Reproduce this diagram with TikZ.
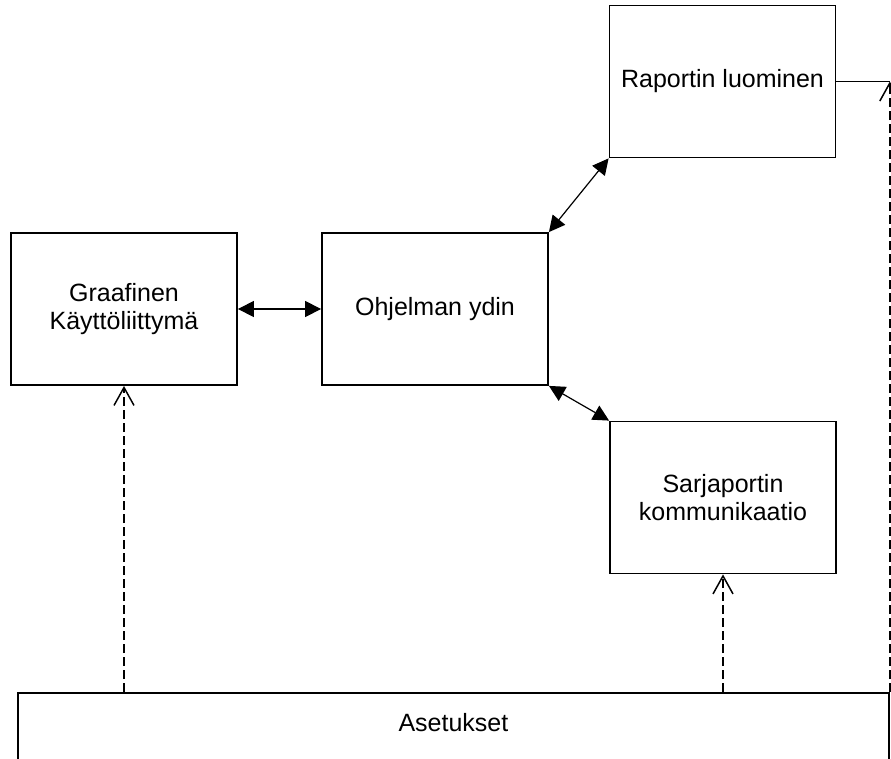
\documentclass[tikz,border=0pt]{standalone}
\usepackage{fontspec}
\setmainfont{Liberation Sans}
\usetikzlibrary{arrows.meta}

\tikzset{
  osa/.style={draw, line width=1.8pt, minimum width=226pt, minimum height=152pt,
    align=center, font=\fontsize{25}{28}\selectfont},
  kaksisuunta/.style={line width=1.2pt, {Triangle[length=16pt,width=16pt]}-{Triangle[length=16pt,width=16pt]}},
  riippuvuus/.style={line width=1.5pt, dash pattern=on 9pt off 4pt, -{Straight Barb[length=18pt,width=20pt]}}
}

\begin{document}
\begin{tikzpicture}[x=1pt,y=-1pt]
\useasboundingbox (0,0) rectangle (891,758);
\clip (0,0) rectangle (891,758);

\node [osa](gui) at (124,309) {Graafinen\\Käyttöliittymä};
\node [osa](ydin) at (435,309) {Ohjelman ydin};
\node [osa](raportti) at (722.5,81.5) {Raportin luominen};
\node [osa](sarja) at (723,497.5) {Sarjaportin\\kommunikaatio};

% asetukset jatkuu kuvan alareunan yli
\node [draw, line width=1.8pt, anchor=north west, minimum width=871pt, inner ysep=0pt,
  text height=39pt, text depth=41pt, font=\fontsize{25}{28}\selectfont](asetukset) at (17,692) {Asetukset};

\coordinate (kulma) at (raportti.east -| asetukset.north east);

\draw [kaksisuunta] (gui) -- (ydin);
\draw [kaksisuunta] (ydin.north east) -- (raportti.south west);
\draw [kaksisuunta] (ydin.south east) -- (sarja.north west);

\draw [line width=1.5pt] (raportti.east) -- (kulma);
\draw [riippuvuus] (asetukset.north east) -- (kulma);
\draw [riippuvuus] (gui |- asetukset.north) -- (gui.south);
\draw [riippuvuus] (sarja |- asetukset.north) -- (sarja.south);
\end{tikzpicture}
\end{document}
